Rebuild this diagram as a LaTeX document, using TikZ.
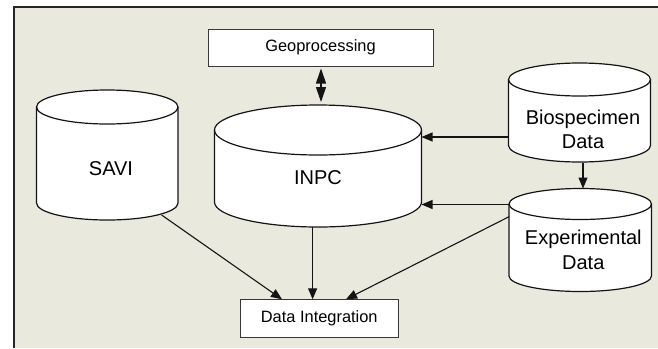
\documentclass[tikz,border=0pt]{standalone}
\usepackage{fontspec}
\setmainfont{Liberation Sans}
\usetikzlibrary{arrows.meta,calc}
\definecolor{panelbg}{RGB}{233,233,221}
\definecolor{linecol}{RGB}{20,20,20}
\definecolor{boxcol}{RGB}{55,55,55}
\tikzset{
  panel/.style={fill=panelbg},
  cylstyle/.style={draw=linecol, fill=white, line width=1.2bp},
  boxnode/.style={draw=boxcol, fill=white, line width=1bp, inner sep=0pt,
    font=\fontsize{16.4bp}{19bp}\selectfont},
  cyltext/.style={align=center, inner sep=0pt,
    font=\fontsize{20bp}{24.5bp}\selectfont},
  arr/.style={draw=linecol, line width=1.1bp, -{Triangle[length=11bp,width=9bp]}},
  dblarr/.style={draw=linecol, line width=1.1bp,
    {Triangle[length=15bp,width=10bp]}-{Triangle[length=15bp,width=10bp]}},
}
% xl, xr, ytop, ybottom, ry
\newcommand{\dbcylinder}[5]{%
  \pgfmathsetmacro\cylrx{(#2-#1)/2}%
  \path[cylstyle] (#1,#3+#5) -- (#1,#4-#5)
    arc[start angle=180, end angle=0, x radius=\cylrx, y radius=#5]
    -- (#2,#3+#5)
    arc[start angle=0, end angle=-180, x radius=\cylrx, y radius=#5]
    -- cycle;
  \draw[cylstyle, fill=none] (#1,#3+#5)
    arc[start angle=180, end angle=0, x radius=\cylrx, y radius=#5];
}
\begin{document}
\begin{tikzpicture}[x=1bp, y=-1bp]
\useasboundingbox (0,0) rectangle (658,348);
\fill[white] (0,0) rectangle (658,348);
\fill[panel] (14,7.3) rectangle (658,348);
\draw[line width=2bp, black!85] (14,348) -- (14,7.3) -- (658,7.3);

% cylinders
\dbcylinder{36.5}{178}{90}{220}{17}
\dbcylinder{214.5}{421.5}{105}{227}{25}
\dbcylinder{508.5}{650.5}{63}{162}{16.5}
\dbcylinder{509}{651.5}{188.5}{291.5}{15.5}

% labels
\node[cyltext] (savi) at (111,169) {SAVI};
\node[cyltext] (inpc) at (318,178) {INPC};
\node[cyltext] (bio) at (583,129.5) {Biospecimen\\Data};
\node[cyltext] (exp) at (583.3,249.7) {Experimental\\Data};

% boxes
\node[boxnode, minimum width=225bp, minimum height=37bp] (geo) at (320.5,47.5) {Geoprocessing};
\node[boxnode, minimum width=157.5bp, minimum height=38.4bp] (di) at (319.25,318.5) {Data Integration};

% attachment points
\coordinate (inpcTop) at (321,105);
\coordinate (inpcR1) at (421.5,137);
\coordinate (inpcR2) at (421.5,204.5);
\coordinate (inpcBot) at (312.6,227);
\coordinate (bioL) at (508.5,137);
\coordinate (bioB) at (583,163);
\coordinate (expT) at (583,188.5);
\coordinate (expL) at (509,204.5);
\coordinate (expL2) at (509,216.7);
\coordinate (saviB) at (161.6,215);
\coordinate (diA) at (282,299.3);
\coordinate (diB) at (312.6,299.3);
\coordinate (diC) at (346,299.3);

% connectors
\draw[dblarr, shorten <=2bp, shorten >=3bp] (geo.south -| inpcTop) -- (inpcTop);
\draw[arr] (bioL) -- (inpcR1);
\draw[arr] (bioB) -- (expT);
\draw[arr] (expL) -- (inpcR2);
\draw[arr] (saviB) -- (diA);
\draw[arr] (inpcBot) -- (diB);
\draw[arr] (expL2) -- (diC);
\end{tikzpicture}
\end{document}
